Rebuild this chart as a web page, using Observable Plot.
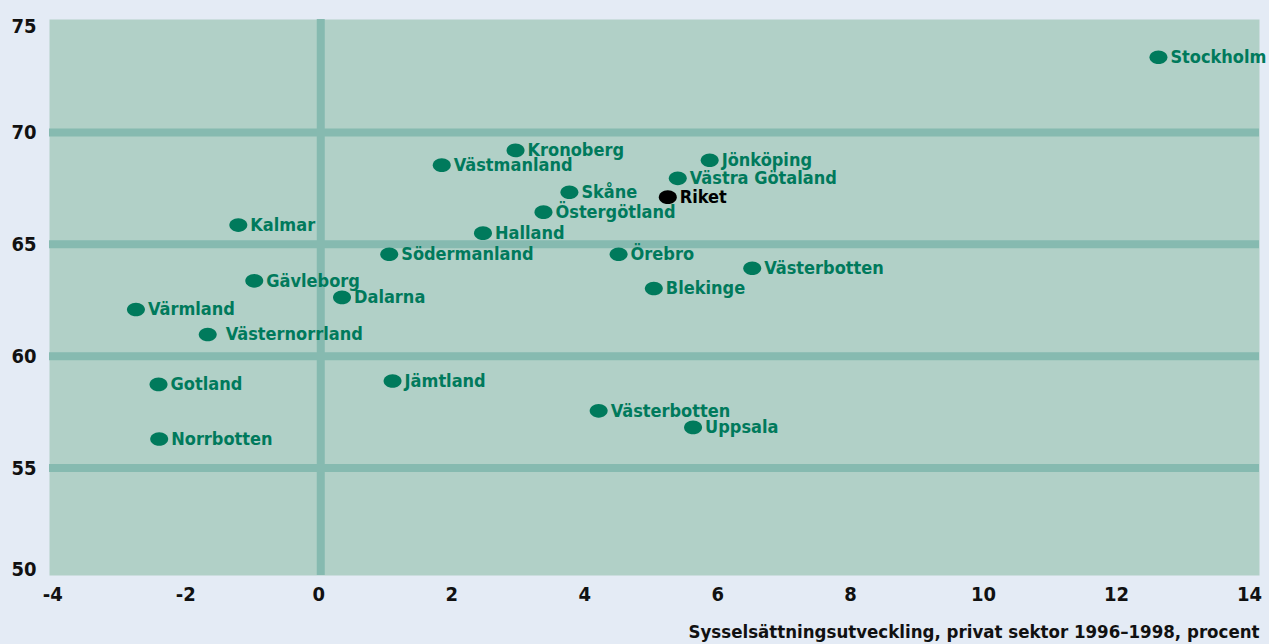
<!DOCTYPE html>
<html><head><meta charset="utf-8">
<script src="https://cdn.jsdelivr.net/npm/d3@7"></script>
<script src="https://cdn.jsdelivr.net/npm/@observablehq/plot@0.6"></script>
<style>
html,body{margin:0;padding:0;background:#e4ebf5;}
#chart svg{display:block;}
</style>
</head><body><div id="chart"></div>
<script>
// Data
const regions = ["Stockholm","Kronoberg","Västmanland","Jönköping","Västra Götaland","Skåne","Riket","Östergötland","Kalmar","Halland","Södermanland","Örebro","Västerbotten","Gävleborg","Blekinge","Dalarna","Värmland","Västernorrland","Gotland","Jämtland","Norrbotten","Västerbotten","Uppsala"];
const growth = [12.60,2.93,1.82,5.85,5.37,3.74,5.22,3.35,-1.24,2.44,1.03,4.48,6.49,-1.00,5.01,0.32,-2.78,-1.70,-2.44,1.08,-2.43,4.18,5.60];
const employment = [73.36,69.20,68.54,68.76,67.95,67.33,67.11,66.44,65.86,65.50,64.56,64.56,63.93,63.37,63.03,62.63,62.09,60.97,58.74,58.89,56.30,57.56,56.82];
const xTicks = [-4,-2,0,2,4,6,8,10,12,14];
const yTicksMid = [55,60,65,70];
const yTickTop = [75];
const yTickBottom = [50];
const gridY = [55,60,65,70];
const gridX = [0];
const totalName = "Riket";
const wideLabel = "Västernorrland";
const xTitle = "Sysselsättningsutveckling, privat sektor 1996–1998, procent";

const rows = regions.map((r,i)=>({region:r, x:growth[i], y:employment[i]}));
const green = "#007a5c";

// ellipse symbol
const ellipse = {draw(ctx){
  const rx=9, ry=6.8, k=0.5523;
  ctx.moveTo(rx,0);
  ctx.bezierCurveTo(rx,k*ry,k*rx,ry,0,ry);
  ctx.bezierCurveTo(-k*rx,ry,-rx,k*ry,-rx,0);
  ctx.bezierCurveTo(-rx,-k*ry,-k*rx,-ry,0,-ry);
  ctx.bezierCurveTo(k*rx,-ry,rx,-k*ry,rx,0);
  ctx.closePath();
}};

const isTotal = d => d.region === totalName;
const normal = rows.filter(d => !isTotal(d) && d.region !== wideLabel);
const wide = rows.filter(d => d.region === wideLabel);
const total = rows.filter(isTotal);

const labelStyle = {x:"x", y:"y", text:"region", textAnchor:"start", lineAnchor:"middle", fontSize:18, fontWeight:"bold"};
const tickStyle = {tickSize:0, fontSize:20, fontWeight:"bold", fill:"#111", label:null};

const chart = Plot.plot({
  width:1269, height:644,
  marginTop:19, marginBottom:69, marginLeft:49, marginRight:10,
  style:{fontFamily:"'DejaVu Sans Condensed', 'DejaVu Sans', sans-serif", background:"#e4ebf5", overflow:"visible"},
  x:{domain:[-4.08,14.12], axis:null},
  y:{domain:[50.2,75.05], axis:null},
  marks:[
    Plot.frame({fill:"#b1d0c7", stroke:null}),
    Plot.ruleY(gridY, {stroke:"#86bab0", strokeWidth:8}),
    Plot.ruleX(gridX, {stroke:"#86bab0", strokeWidth:8}),
    Plot.axisY(yTicksMid, {...tickStyle, tickPadding:13, tickFormat:d=>String(d)}),
    Plot.axisY(yTickTop, {...tickStyle, tickPadding:13, dy:6, tickFormat:d=>String(d)}),
    Plot.axisY(yTickBottom, {...tickStyle, tickPadding:13, dy:-10, tickFormat:d=>String(d)}),
    Plot.axisX(xTicks, {...tickStyle, tickPadding:11, dx:-2, tickFormat:d=>String(d)}),
    Plot.dot(normal.concat(wide), {x:"x", y:"y", symbol:ellipse, fill:green, stroke:null}),
    Plot.dot(total, {x:"x", y:"y", symbol:ellipse, fill:"black", stroke:null}),
    Plot.text(normal, {...labelStyle, dx:12, fill:green}),
    Plot.text(wide, {...labelStyle, dx:18, fill:green}),
    Plot.text(total, {...labelStyle, dx:12, fill:"black"}),
    Plot.text([xTitle], {frameAnchor:"bottom-right", dy:57, textAnchor:"end", lineAnchor:"middle", fontSize:18.5, fontWeight:"bold", fill:"#111"})
  ]
});
document.getElementById("chart").append(chart);
</script>
</body></html>
